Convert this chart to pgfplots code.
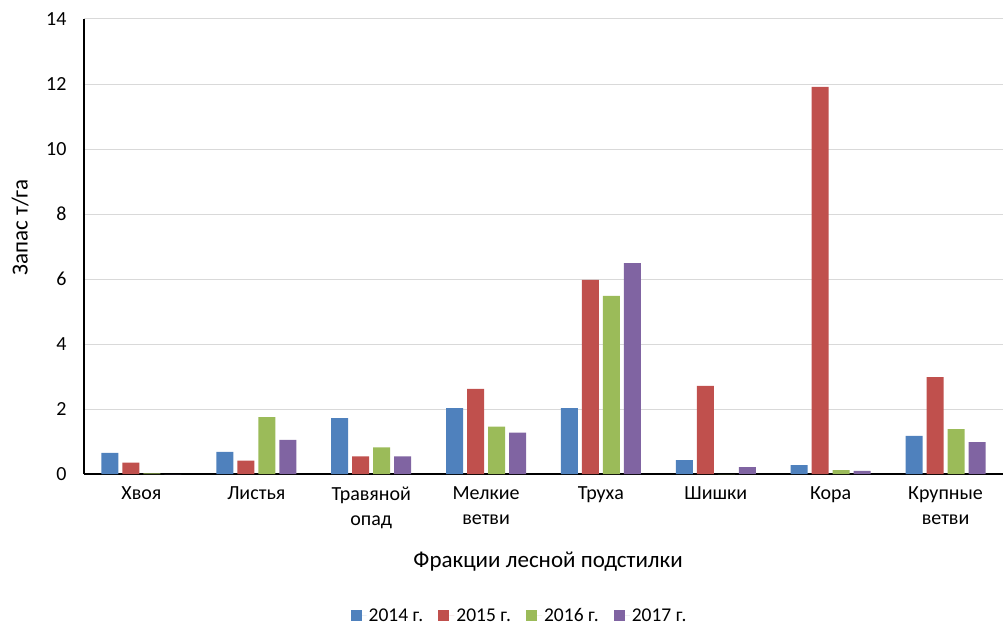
\documentclass[border=0pt]{standalone}
\usepackage{fontspec}
\setmainfont{Carlito}
\usepackage{pgfplots}
\pgfplotsset{compat=1.18}
\usepackage{pgfplotstable}

\definecolor{cBlue}{HTML}{4F81BD}
\definecolor{cRed}{HTML}{C0504D}
\definecolor{cGreen}{HTML}{9BBB59}
\definecolor{cPurple}{HTML}{8064A2}
\definecolor{gridgray}{HTML}{D9D9D9}

% Запас фракций лесной подстилки, т/га
\pgfplotstableread{
x  y2014 y2015 y2016 y2017
0  0.65  0.35  0.02  0.00
1  0.68  0.41  1.75  1.05
2  1.72  0.54  0.82  0.54
3  2.03  2.62  1.46  1.27
4  2.03  5.97  5.48  6.49
5  0.43  2.71  0.00  0.21
6  0.27  11.91 0.12  0.10
7  1.17  2.98  1.38  0.98
}\datatable

\begin{document}
\begin{tikzpicture}[x=1pt,y=1pt,font=\fontsize{20}{25}\selectfont]
\path[use as bounding box] (0,0) rectangle (1003,625);
\begin{axis}[
  at={(84pt,151pt)}, anchor=south west,
  scale only axis,
  width=919pt, height=455pt,
  xmin=-0.5, xmax=7.5,
  ymin=0, ymax=14,
  ytick={0,2,...,14},
  xtick=data,
  xticklabels={Хвоя,Листья,{Травяной\\опад},{Мелкие\\ветви},Труха,Шишки,Кора,{Крупные\\ветви}},
  xticklabel style={align=center, yshift=-9pt, font=\fontsize{20}{25}\selectfont},
  yticklabel style={xshift=-14pt, font=\fontsize{20}{25}\selectfont},
  /pgf/number format/assume math mode=true,
  axis x line*=bottom,
  axis y line*=left,
  axis line style={black, line width=1.2pt},
  major tick length=0pt,
  ymajorgrids,
  grid style={gridgray, line width=1pt},
  ybar=4pt,
  bar width=17pt,
  xlabel={Фракции лесной подстилки},
  ylabel={Запас т/га},
  xlabel style={at={(axis description cs:0.505,-0.193)}, anchor=center, font=\fontsize{23}{28}\selectfont},
  ylabel style={at={(axis description cs:-0.0696,0.542)}, anchor=center, font=\fontsize{23}{28}\selectfont},
  legend columns=4,
  legend style={
    at={(axis description cs:0.474,-0.312)}, anchor=center,
    draw=none, fill=none,
    font=\fontsize{19.5}{23}\selectfont,
    /tikz/every odd column/.append style={column sep=0pt},
    /tikz/every even column/.append style={column sep=13pt},
  },
  legend image code/.code={%
    \fill[#1] (-2pt,-5pt) rectangle (9pt,6pt);
    \path (9pt,0pt) -- (14pt,0pt);},
]
\addplot[fill=cBlue, draw=none] table[x=x, y=y2014] {\datatable};
\addplot[fill=cRed, draw=none] table[x=x, y=y2015] {\datatable};
\addplot[fill=cGreen, draw=none] table[x=x, y=y2016] {\datatable};
\addplot[fill=cPurple, draw=none] table[x=x, y=y2017] {\datatable};
\legend{2014 г.,2015 г.,2016 г.,2017 г.}
\end{axis}
\end{tikzpicture}
\end{document}
